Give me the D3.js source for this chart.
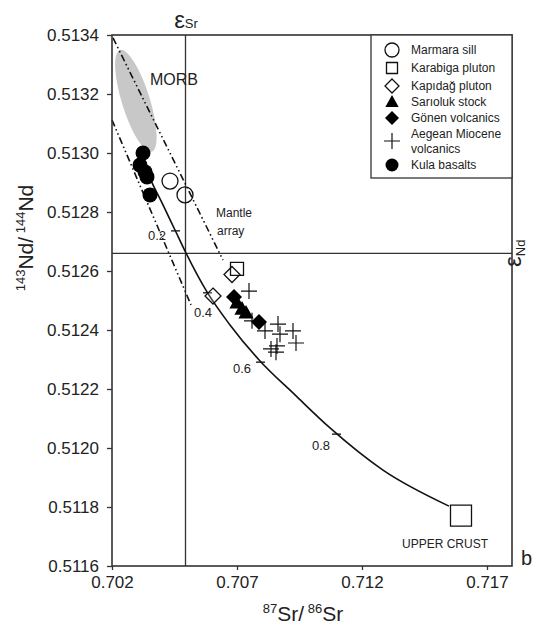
<!DOCTYPE html>
<html>
<head>
<meta charset="utf-8">
<script src="https://cdn.jsdelivr.net/npm/d3@7"></script>
<style>
  body { margin: 0; background: #fff; }
  text { font-family: "Liberation Sans", Arial, sans-serif; fill: #222; }
</style>
</head>
<body>
<svg id="chart" width="535" height="624"></svg>
<script>
// axis ticks
var xTicks = [0.702, 0.707, 0.712, 0.717]
var yTicks = [0.5116, 0.5118, 0.5120, 0.5122, 0.5124, 0.5126, 0.5128, 0.5130, 0.5132, 0.5134]

// reference lines: bulk earth Sr and CHUR Nd
var bulkEarthSr = 0.70494
var churNd = 0.51266

// samples [87Sr/86Sr, 143Nd/144Nd]
var marmaraSill = [[0.70432, 0.512905], [0.70492, 0.512858]]
var karabigaPluton = [[0.70700, 0.512607]]
var upperCrust = [0.71596, 0.511771]
var kapidagPluton = [[0.70680, 0.512588], [0.70604, 0.512515]]
var sarilukStock = [[0.70700, 0.512492], [0.70720, 0.512471], [0.70736, 0.512458]]
var gonenVolcanics = [[0.70688, 0.512512], [0.70788, 0.512427]]
var aegeanMiocene = [
  [0.70748, 0.512532], [0.70760, 0.512431], [0.70812, 0.512397], [0.70864, 0.512420],
  [0.70872, 0.512386], [0.70924, 0.512397], [0.70936, 0.512356], [0.70836, 0.512336],
  [0.70856, 0.512325], [0.70860, 0.512346]
]
var kulaBasalts = [[0.70324, 0.513000], [0.70312, 0.512959], [0.70332, 0.512936], [0.70340, 0.512919], [0.70352, 0.512858]]

// mixing curve and its fraction marks
var mixingCurve = [
  [0.70324, 0.512976], [0.70352, 0.512915], [0.70404, 0.512824], [0.70452, 0.512739],
  [0.70496, 0.512661], [0.70580, 0.512529], [0.70672, 0.512417], [0.70792, 0.512295],
  [0.70932, 0.512180], [0.71072, 0.512068], [0.71284, 0.511925], [0.71548, 0.511803]
]
var mixFractions = ["0.2", "0.4", "0.6", "0.8"]
var mixMarks = [[0.70456, 0.512736], [0.70584, 0.512526], [0.70796, 0.512291], [0.71100, 0.512047]]

// mantle array lines (two ends each)
var mantleArray = [
  [[0.70204, 0.513390], [0.70644, 0.512637]],
  [[0.70200, 0.513112], [0.70516, 0.512485]]
]
// MORB field: ends of the long axis
var morbTips = [[0.70232, 0.513349], [0.70359, 0.513004]]

var legendNames = ["Marmara sill", "Karabiga pluton", "Kapıdağ pluton", "Sarıoluk stock", "Gönen volcanics", "Aegean Miocene|volcanics", "Kula basalts"]

var svg = d3.select("#chart")
var x = d3.scaleLinear().domain([0.702, 0.718]).range([112, 512])
var y = d3.scaleLinear().domain([0.5116, 0.5134]).range([566, 35])

function plus(s) { return "M" + (-s) + ",0H" + s + "M0," + (-s) + "V" + s }
function sq(s) { return "M" + (-s) + "," + (-s) + "H" + s + "V" + s + "H" + (-s) + "Z" }
function diamond(s) { return "M0," + (-s) + "L" + s + ",0L0," + s + "L" + (-s) + ",0Z" }
function tri(s) { return "M0," + (-s) + "L" + (s * 0.95) + "," + (s * 0.7) + "L" + (-s * 0.95) + "," + (s * 0.7) + "Z" }

// MORB ellipse
var p1 = [x(morbTips[0][0]), y(morbTips[0][1])], p2 = [x(morbTips[1][0]), y(morbTips[1][1])]
var ang = Math.atan2(p2[1] - p1[1], p2[0] - p1[0]) * 180 / Math.PI
svg.append("ellipse")
  .attr("transform", "translate(" + (p1[0] + p2[0]) / 2 + "," + (p1[1] + p2[1]) / 2 + ") rotate(" + ang + ")")
  .attr("rx", Math.hypot(p2[0] - p1[0], p2[1] - p1[1]) / 2)
  .attr("ry", 14)
  .attr("fill", "#c8c8c8")

// crosshair
svg.append("line").attr("x1", x(bulkEarthSr)).attr("x2", x(bulkEarthSr)).attr("y1", y(0.5134)).attr("y2", y(0.5116))
  .attr("stroke", "#333").attr("stroke-width", 1.3)
svg.append("line").attr("x1", x(0.702)).attr("x2", x(0.718)).attr("y1", y(churNd)).attr("y2", y(churNd))
  .attr("stroke", "#333").attr("stroke-width", 1.3)

// mantle array
svg.selectAll(".mantle").data(mantleArray).enter().append("line")
  .attr("x1", d => x(d[0][0])).attr("y1", d => y(d[0][1]))
  .attr("x2", d => x(d[1][0])).attr("y2", d => y(d[1][1]))
  .attr("stroke", "#111").attr("stroke-width", 1.6)
  .attr("stroke-dasharray", "7,3,1.5,3,1.5,3")

// mixing curve
var line = d3.line().x(d => x(d[0])).y(d => y(d[1])).curve(d3.curveMonotoneX)
svg.append("path").datum(mixingCurve).attr("d", line)
  .attr("fill", "none").attr("stroke", "#111").attr("stroke-width", 1.6)

var labelOff = [[-19, 9], [-5, 24], [-19, 11], [-16, 16]]
svg.selectAll(".mixtick").data(mixMarks).enter().append("line")
  .attr("x1", d => x(d[0]) - 5).attr("x2", d => x(d[0]) + 4)
  .attr("y1", d => y(d[1])).attr("y2", d => y(d[1]))
  .attr("stroke", "#111").attr("stroke-width", 1.3)
svg.selectAll(".mixlab").data(mixMarks).enter().append("text")
  .attr("x", (d, i) => x(d[0]) + labelOff[i][0])
  .attr("y", (d, i) => y(d[1]) + labelOff[i][1])
  .attr("text-anchor", "middle").attr("font-size", 13)
  .text((d, i) => mixFractions[i])

// samples
var g = svg.append("g")
g.selectAll(".aeg").data(aegeanMiocene).enter().append("path")
  .attr("transform", d => "translate(" + x(d[0]) + "," + y(d[1]) + ")")
  .attr("d", plus(8)).attr("stroke", "#111").attr("stroke-width", 1.2).attr("fill", "none")
g.selectAll(".sar").data(sarilukStock).enter().append("path")
  .attr("transform", d => "translate(" + x(d[0]) + "," + y(d[1]) + ")")
  .attr("d", tri(8)).attr("fill", "#000")
g.selectAll(".gon").data(gonenVolcanics).enter().append("path")
  .attr("transform", d => "translate(" + x(d[0]) + "," + y(d[1]) + ")")
  .attr("d", diamond(8)).attr("fill", "#000")
g.selectAll(".kap").data(kapidagPluton).enter().append("path")
  .attr("transform", d => "translate(" + x(d[0]) + "," + y(d[1]) + ")")
  .attr("d", diamond(8)).attr("fill", "#fff").attr("fill-opacity", 0.2).attr("stroke", "#111").attr("stroke-width", 1.3)
g.selectAll(".kar").data(karabigaPluton).enter().append("path")
  .attr("transform", d => "translate(" + x(d[0]) + "," + y(d[1]) + ")")
  .attr("d", sq(6.5)).attr("fill", "none").attr("stroke", "#111").attr("stroke-width", 1.3)
g.append("path")
  .attr("transform", "translate(" + x(upperCrust[0]) + "," + y(upperCrust[1]) + ")")
  .attr("d", sq(10.5)).attr("fill", "#fff").attr("stroke", "#111").attr("stroke-width", 1.3)
g.selectAll(".mar").data(marmaraSill).enter().append("circle")
  .attr("cx", d => x(d[0])).attr("cy", d => y(d[1])).attr("r", 8)
  .attr("fill", "none").attr("stroke", "#111").attr("stroke-width", 1.3)
g.selectAll(".kula").data(kulaBasalts).enter().append("circle")
  .attr("cx", d => x(d[0])).attr("cy", d => y(d[1])).attr("r", 7.5)
  .attr("fill", "#000")

// axes
var xAxis = svg.append("g").attr("transform", "translate(0,566)")
  .call(d3.axisBottom(x).tickValues(xTicks).tickFormat(d3.format(".3f")).tickSize(4).tickPadding(6))
var yAxis = svg.append("g").attr("transform", "translate(112,0)")
  .call(d3.axisLeft(y).tickValues(yTicks).tickFormat(d3.format(".4f")).tickSize(5).tickPadding(8))
svg.selectAll(".domain").remove()
svg.selectAll(".tick text").attr("font-size", 17).attr("fill", "#222")
  .style("font-family", "'Liberation Sans', Arial, sans-serif")
svg.selectAll(".tick line").attr("stroke", "#333").attr("stroke-width", 1.3)
svg.append("rect").attr("x", x(0.702)).attr("y", y(0.5134))
  .attr("width", x(0.718) - x(0.702)).attr("height", y(0.5116) - y(0.5134))
  .attr("fill", "none").attr("stroke", "#333").attr("stroke-width", 1.6)

// axis titles
var xt = svg.append("text").attr("x", 303).attr("y", 621).attr("text-anchor", "middle").attr("font-size", 21)
xt.append("tspan").attr("font-size", 13).attr("dy", -8).text("87")
xt.append("tspan").attr("dy", 8).text("Sr/")
xt.append("tspan").attr("font-size", 13).attr("dy", -8).text(" 86")
xt.append("tspan").attr("dy", 8).text("Sr")

var yt = svg.append("text").attr("transform", "translate(33,238) rotate(-90)").attr("text-anchor", "middle").attr("font-size", 21)
yt.append("tspan").attr("font-size", 13).attr("dy", -8).text("143")
yt.append("tspan").attr("dy", 8).text("Nd/")
yt.append("tspan").attr("font-size", 13).attr("dy", -8).text(" 144")
yt.append("tspan").attr("dy", 8).text("Nd")

// epsilon labels
var es = svg.append("text").attr("x", 186).attr("y", 28).attr("text-anchor", "middle")
es.append("tspan").attr("font-size", 24).text("ε")
es.append("tspan").attr("font-size", 13).text("Sr")
var en = svg.append("text").attr("transform", "translate(521," + y(churNd) + ") rotate(-90)").attr("text-anchor", "middle")
en.append("tspan").attr("font-size", 24).text("ε")
en.append("tspan").attr("font-size", 13).attr("dy", 4).text("Nd")

// annotations
svg.append("text").attr("x", 150).attr("y", 85).attr("font-size", 16).text("MORB")
svg.append("text").attr("x", 216).attr("y", 217).attr("font-size", 12).text("Mantle")
svg.append("text").attr("x", 217).attr("y", 235).attr("font-size", 12).text("array")
svg.append("text").attr("x", 402).attr("y", 548).attr("font-size", 12).text("UPPER CRUST")
svg.append("text").attr("x", 521).attr("y", 565).attr("font-size", 20).text("b")

// legend
var leg = svg.append("g")
leg.append("rect").attr("x", 371).attr("y", 35).attr("width", 141).attr("height", 143)
  .attr("fill", "#fff").attr("stroke", "#333").attr("stroke-width", 1.3)
var legY = [50, 68, 86, 102, 118, 141, 165]
var legSym = [
  s => s.append("circle").attr("r", 7).attr("fill", "none").attr("stroke", "#111").attr("stroke-width", 1.3),
  s => s.append("path").attr("d", sq(5.5)).attr("fill", "none").attr("stroke", "#111").attr("stroke-width", 1.3),
  s => s.append("path").attr("d", diamond(7)).attr("fill", "none").attr("stroke", "#111").attr("stroke-width", 1.3),
  s => s.append("path").attr("d", tri(7)).attr("fill", "#000"),
  s => s.append("path").attr("d", diamond(7)).attr("fill", "#000"),
  s => s.append("path").attr("d", plus(8)).attr("stroke", "#111").attr("stroke-width", 1.2),
  s => s.append("circle").attr("r", 6.5).attr("fill", "#000")
]
legendNames.forEach(function (name, i) {
  var s = leg.append("g").attr("transform", "translate(392," + legY[i] + ")")
  legSym[i](s)
  var parts = name.split("|")
  parts.forEach(function (p, j) {
    leg.append("text").attr("x", 411).attr("y", legY[i] + 4 + (j - (parts.length - 1) / 2) * 15)
      .attr("font-size", 12).text(p)
  })
})
</script>
</body>
</html>
